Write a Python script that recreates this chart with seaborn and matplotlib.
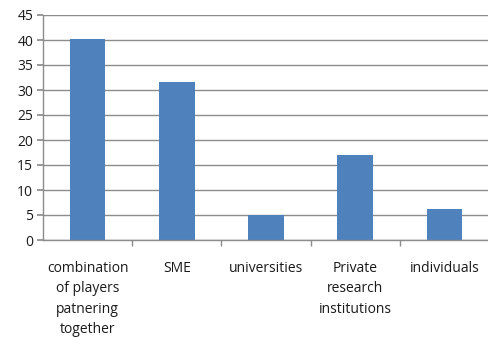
import matplotlib
matplotlib.use("Agg")
import matplotlib.pyplot as plt
import seaborn as sns
import pandas as pd
import numpy as np

categories = ["combination\nof players\npatnering\ntogether", "SME", "universities",
              "Private\nresearch\ninstitutions", "individuals"]
values = [40.2, 31.7, 5.0, 17.0, 6.2]
yticks = [0, 5, 10, 15, 20, 25, 30, 35, 40, 45]

sns.set_theme(style="white")
plt.rcParams['font.family'] = ['Open Sans', 'DejaVu Sans']

df = pd.DataFrame({"cat": categories, "val": values})
fig = plt.figure(figsize=(4.88, 3.38), dpi=100)
ax = fig.add_axes([43/488, 1-240/338, (489-43)/488, (240-15)/338])
sns.barplot(data=df, x="cat", y="val", color="#4F81BD", saturation=1, width=0.4, ax=ax,
            edgecolor="none")
ax.set_xlim(-0.5, 4.5)
ax.set_ylim(0, 45)
ax.set_yticks(yticks)
ax.set_yticklabels([str(t) for t in yticks], fontsize=10, color="#1a1a1a")
ax.yaxis.grid(True, color="#8C8C8C", linewidth=1)
ax.set_axisbelow(True)
ax.set_xlabel("")
ax.set_ylabel("")
for s in ["top", "right"]:
    ax.spines[s].set_visible(False)
for s in ["left", "bottom"]:
    ax.spines[s].set_color("#8C8C8C")
    ax.spines[s].set_linewidth(1)
ax.tick_params(axis="y", which="major", length=4, color="#8C8C8C", left=True, pad=3)
ax.tick_params(axis="x", which="major", length=0, pad=15)
ax.set_xticks(range(len(categories)))
ax.set_xticklabels(categories, fontsize=10, va="top", linespacing=1.5, color="#1a1a1a")
ax.set_xticks(np.arange(0.5, 4.0, 1.0), minor=True)
ax.tick_params(axis="x", which="minor", length=4, color="#8C8C8C", bottom=True)
fig.savefig("out.png", dpi=100)
